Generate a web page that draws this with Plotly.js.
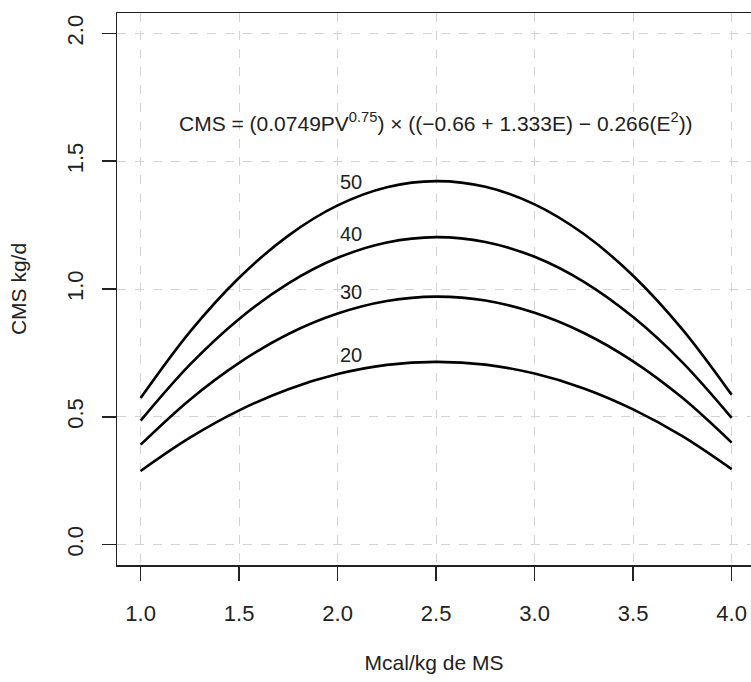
<!DOCTYPE html>
<html>
<head>
<meta charset="utf-8">
<script src="https://cdn.plot.ly/plotly-3.0.1.min.js"></script>
<style>html,body{margin:0;padding:0;background:#fff;}#chart{width:751px;height:682px;}</style>
</head>
<body>
<div id="chart"></div>
<script>
// Energy density (Mcal/kg de MS)
var energy = [1.0, 1.25, 1.5, 1.75, 2.0, 2.25, 2.5, 2.75, 3.0, 3.25, 3.5, 3.75, 4.0];
// CMS kg/d read for each body weight curve
var cms20 = [0.288, 0.418, 0.525, 0.608, 0.667, 0.703, 0.715, 0.704, 0.669, 0.611, 0.529, 0.424, 0.295];
var cms30 = [0.391, 0.567, 0.711, 0.824, 0.904, 0.953, 0.970, 0.955, 0.907, 0.828, 0.717, 0.574, 0.399];
var cms40 = [0.485, 0.704, 0.883, 1.022, 1.122, 1.182, 1.203, 1.184, 1.126, 1.028, 0.890, 0.713, 0.496];
var cms50 = [0.573, 0.832, 1.044, 1.209, 1.327, 1.398, 1.422, 1.400, 1.331, 1.215, 1.052, 0.842, 0.586];
var curveLabels = ["20", "30", "40", "50"];
var labelX = [2.07, 2.07, 2.07, 2.07];
var labelY = [0.74, 0.99, 1.215, 1.42];
var xTicks = [1.0, 1.5, 2.0, 2.5, 3.0, 3.5, 4.0];
var xTickText = ["1.0", "1.5", "2.0", "2.5", "3.0", "3.5", "4.0"];
var yTicks = [0.0, 0.5, 1.0, 1.5, 2.0];
var yTickText = ["0.0", "0.5", "1.0", "1.5", "2.0"];
var equation = "CMS = (0.0749PV<sup>0.75</sup>) × ((−0.66 + 1.333E) − 0.266(E<sup>2</sup>))";

var series = [cms20, cms30, cms40, cms50];
var traces = series.map(function (ys, i) {
  return {
    x: energy, y: ys, type: "scatter", mode: "lines",
    line: {color: "#000", width: 2.6, shape: "spline"},
    name: curveLabels[i], hoverinfo: "skip"
  };
});

var font = {family: "Liberation Sans, Arial, sans-serif", size: 21, color: "#222"};
var annotations = curveLabels.map(function (t, i) {
  return {x: labelX[i], y: labelY[i], text: t, showarrow: false, xref: "x", yref: "y",
          font: {family: font.family, size: 20, color: "#222"}};
});
annotations.push({x: 2.5, y: 1.655, xref: "x", yref: "y", text: equation, showarrow: false,
                  font: {family: font.family, size: 21, color: "#222"}});

var layout = {
  width: 751, height: 682,
  margin: {l: 117, r: 0, t: 13, b: 117},
  paper_bgcolor: "#fff", plot_bgcolor: "#fff",
  showlegend: false,
  font: font,
  xaxis: {
    range: [0.88, 0.88 + 634 / 197], tickvals: xTicks, ticktext: xTickText,
    showline: true, linecolor: "#222", linewidth: 1.5, mirror: true,
    ticks: "outside", ticklen: 14, tickwidth: 1.5, tickcolor: "#222",
    showgrid: true, gridcolor: "#d3d3d3", griddash: "dash", gridwidth: 1,
    zeroline: false, ticklabelstandoff: 14,
    tickfont: {family: font.family, size: 22, color: "#222"},
    title: {text: "Mcal/kg de MS", font: font, standoff: 30}
  },
  yaxis: {
    range: [-0.08, 2.08], tickvals: yTicks, ticktext: yTickText, tickangle: -90,
    showline: true, linecolor: "#222", linewidth: 1.5, mirror: false,
    ticks: "outside", ticklen: 14, tickwidth: 1.5, tickcolor: "#222",
    showgrid: true, gridcolor: "#d3d3d3", griddash: "dash", gridwidth: 1,
    zeroline: false, ticklabelstandoff: 10,
    tickfont: {family: font.family, size: 22, color: "#222"},
    title: {text: "CMS kg/d", font: font, standoff: 30}
  },
  annotations: annotations
};
Plotly.newPlot("chart", traces, layout, {displayModeBar: false, staticPlot: true});
</script>
</body>
</html>
